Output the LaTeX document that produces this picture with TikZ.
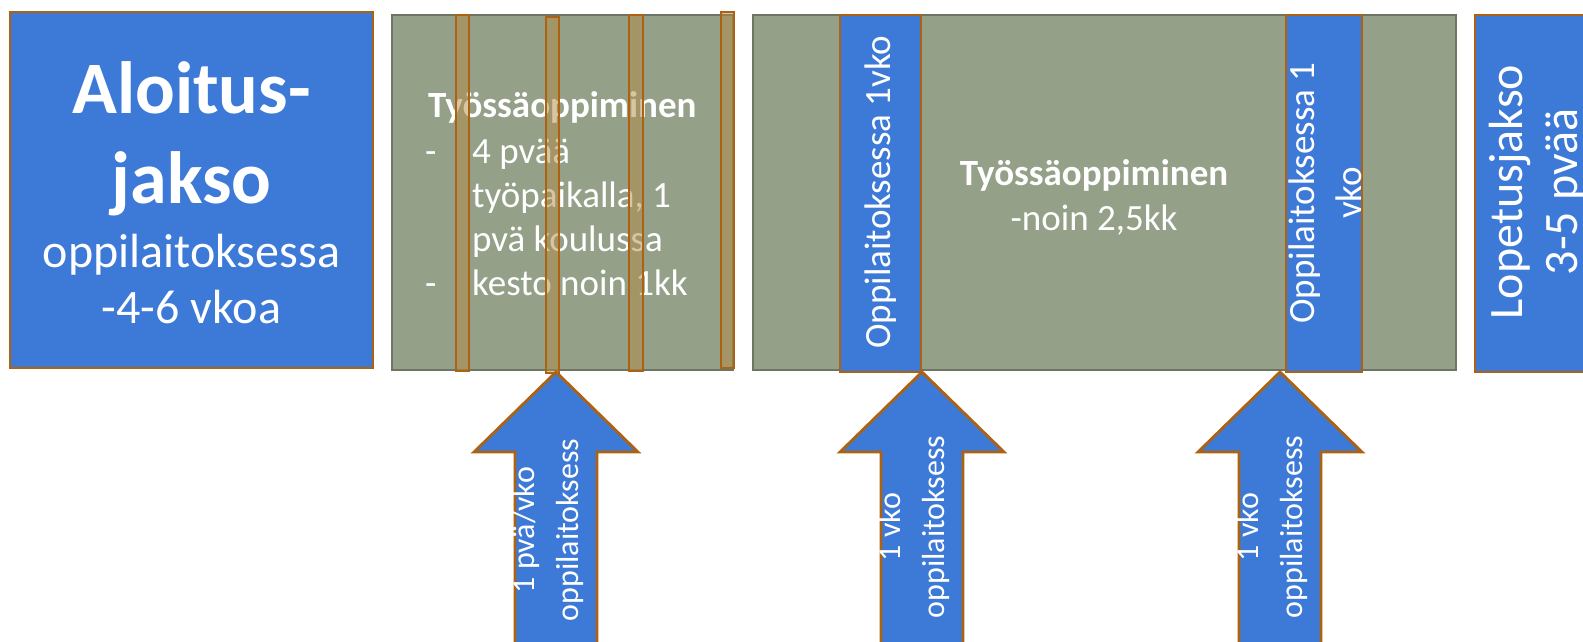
\documentclass[tikz,border=0pt]{standalone}
\usepackage{fontspec}
\setmainfont{Carlito}
\definecolor{blu}{RGB}{61,122,216}
\definecolor{brn}{RGB}{172,98,16}
\definecolor{grn}{RGB}{149,160,136}
\definecolor{grnb}{RGB}{108,118,98}
\definecolor{tanc}{RGB}{179,140,72}
\begin{document}
\begin{tikzpicture}[x=1pt,y=-1pt,
  bluebox/.style={fill=blu,draw=brn,line width=2.8pt},
  greenbox/.style={fill=grn,draw=grnb,line width=2.6pt},
  thinstrip/.style={fill=tanc,fill opacity=0.5,draw=brn,draw opacity=1,line width=2.6pt},
  wt/.style={text=white,inner sep=0pt},
  rot/.style={wt,rotate=90,align=center},
  uparr/.pic={\draw[bluebox,line join=miter] (0,0) -- (82,80) -- (41,80) -- (41,300) -- (-41,300) -- (-41,80) -- (-82,80) -- cycle;}]
\useasboundingbox (0,0) rectangle (1583,641);
\clip (0,0) rectangle (1583,641);
% box 1
\draw[bluebox] (10,12) rectangle (373,368);
\node[wt,anchor=base,font=\fontsize{74}{88}\selectfont\bfseries] (a1) at (191.5,113) {Aloitus-};
\node[wt,anchor=base,font=\fontsize{74}{88}\selectfont\bfseries] (a2) at (191.5,203) {jakso};
\node[wt,anchor=base,font=\fontsize{48}{56}\selectfont] (a3) at (191.5,267) {oppilaitoksessa};
\node[wt,anchor=base,font=\fontsize{48}{56}\selectfont] (a4) at (191.5,323) {-4-6 vkoa};
% box 2
\draw[greenbox] (392,15) rectangle (733,370);
\node[wt,anchor=base west,font=\fontsize{37}{44}\selectfont\bfseries] (b0) at (428,117) {Työssäoppiminen};
\node[wt,anchor=base west,font=\fontsize{37}{44}\selectfont] (d1) at (425,163) {-};
\node[wt,anchor=base west,font=\fontsize{37}{44}\selectfont] (b1) at (472,163) {4 pvää};
\node[wt,anchor=base west,font=\fontsize{37}{44}\selectfont] (b2) at (472,207) {työpaikalla, 1};
\node[wt,anchor=base west,font=\fontsize{37}{44}\selectfont] (b3) at (472,251) {pvä koulussa};
\node[wt,anchor=base west,font=\fontsize{37}{44}\selectfont] (d2) at (425,295) {-};
\node[wt,anchor=base west,font=\fontsize{37}{44}\selectfont] (b4) at (472,295) {kesto noin 1kk};
\draw[thinstrip] (456,15) rectangle (469,371);
\draw[thinstrip] (546,17) rectangle (559,373);
\draw[thinstrip] (629,15) rectangle (643,371);
\draw[thinstrip] (721,12) rectangle (734,368);
% box 3
\draw[greenbox] (753,15) rectangle (1456,370);
\draw[bluebox] (840,15) rectangle (921,372);
\node[rot,font=\fontsize{37}{46}\selectfont] (s1) at (881,192) {Oppilaitoksessa 1vko};
\draw[bluebox] (1286,15) rectangle (1362,372);
\node[rot,font=\fontsize{37}{47}\selectfont] (s2) at (1325,193) {Oppilaitoksessa 1\\vko};
\node[wt,anchor=base,font=\fontsize{37}{44}\selectfont\bfseries] (c1) at (1094,185) {Työssäoppiminen};
\node[wt,anchor=base,font=\fontsize{37}{44}\selectfont] (c2) at (1094,230) {-noin 2,5kk};
% box 4
\draw[bluebox] (1475,15) rectangle (1660,372);
\node[rot,font=\fontsize{48}{55}\selectfont] (l1) at (1537,192) {Lopetusjakso\\3-5 pvää};
% arrows
\pic (p1) at (556,372) {uparr};
\pic (p2) at (922,372) {uparr};
\pic (p3) at (1280,372) {uparr};
\node[rot,font=\fontsize{32}{44}\selectfont] (t1) at (548,530) {1 pvä/vko\\oppilaitoksess};
\node[rot,font=\fontsize{32}{44}\selectfont] (t2) at (914,527) {1 vko\\oppilaitoksess};
\node[rot,font=\fontsize{32}{44}\selectfont] (t3) at (1272,527) {1 vko\\oppilaitoksess};
\end{tikzpicture}
\end{document}
